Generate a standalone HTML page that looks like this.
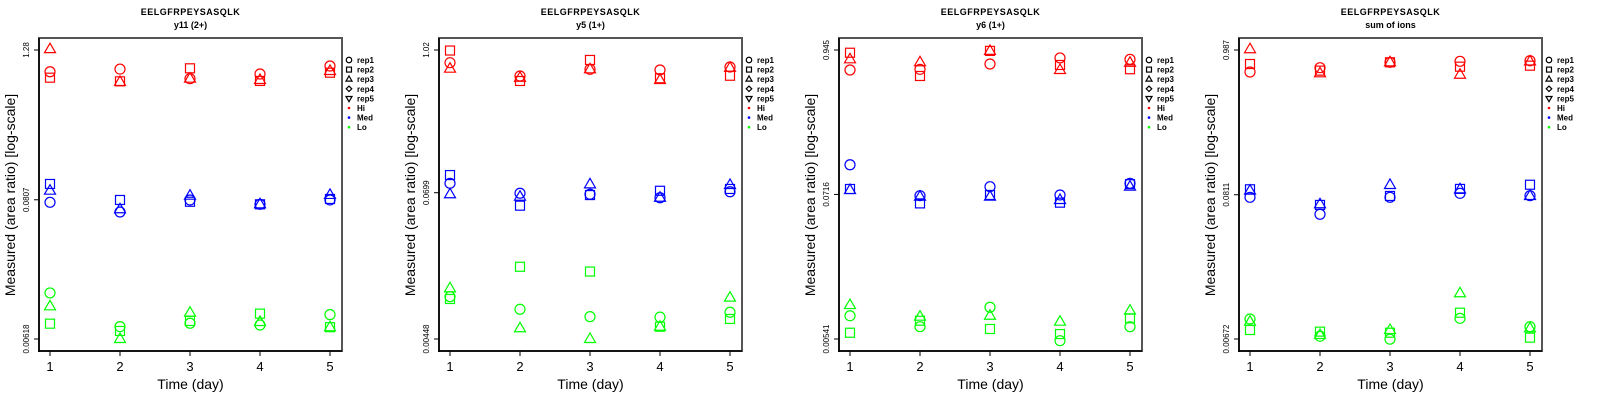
<!DOCTYPE html>
<html><head><meta charset="utf-8"><style>
html,body{margin:0;padding:0;background:#fff;}
svg{display:block;font-family:"Liberation Sans",sans-serif;}
</style></head><body>
<svg id="chart" width="1600" height="400" viewBox="0 0 1600 400"></svg>
<script>
const days = [1, 2, 3, 4, 5];
const repNames = ["rep1", "rep2", "rep3", "rep4", "rep5"];
const levelNames = ["Hi", "Med", "Lo"];
const panelTitles = ["y11 (2+)", "y5 (1+)", "y6 (1+)", "sum of ions"];
const peptide = "EELGFRPEYSASQLK";
const tickLabels = [["1.28","0.0807","0.00618"],["1.02","0.0699","0.00448"],["0.945","0.0716","0.00541"],["0.987","0.0811","0.00672"]];
const tickValues = [[1.28,0.0807,0.00618],[1.02,0.0699,0.00448],[0.945,0.0716,0.00541],[0.987,0.0811,0.00672]];
// [rep1 circle, rep2 square, rep3 triangle] x days
const p1Hi = [[0.857,0.90,0.754,0.822,0.953],[0.768,0.718,0.913,0.723,0.842],[1.30,0.71,0.754,0.736,0.869]];
const p1Med = [[0.077,0.0644,0.0804,0.0742,0.0804],[0.108,0.0804,0.0778,0.0742,0.0819],[0.0954,0.0677,0.087,0.0742,0.0882]];
const p1Lo = [[0.01446,0.00777,0.00826,0.0080,0.00969],[0.0082,0.00717,0.00862,0.00987,0.00768],[0.0113,0.00618,0.01005,0.00846,0.00768]];
const p2Hi = [[0.804,0.626,0.71,0.701,0.741],[1.01,0.570,0.846,0.600,0.629],[0.718,0.606,0.71,0.580,0.73]];
const p2Med = [[0.0834,0.0692,0.0679,0.0636,0.0712],[0.0974,0.0548,0.0669,0.0725,0.075],[0.0679,0.0649,0.0818,0.0636,0.0808]];
const p2Lo = [[0.00992,0.00783,0.00682,0.00676,0.0074],[0.0095,0.0174,0.0159,0.00564,0.00653],[0.0116,0.00548,0.00448,0.00564,0.00974]];
const p3Hi = [[0.661,0.669,0.736,0.82,0.80],[0.90,0.594,0.93,0.723,0.67],[0.80,0.759,0.93,0.661,0.753]];
const p3Med = [[0.1217,0.070,0.0822,0.0709,0.0873],[0.0789,0.061,0.0709,0.0618,0.086],[0.0774,0.0688,0.0688,0.0648,0.0822]];
const p3Lo = [[0.0082,0.00674,0.00954,0.00525,0.00674],[0.00605,0.0075,0.00647,0.00591,0.00783],[0.00992,0.00806,0.0082,0.00737,0.00897]];
const p4Hi = [[0.675,0.727,0.798,0.812,0.82],[0.775,0.691,0.798,0.74,0.753],[1.0,0.66,0.798,0.644,0.81]];
const p4Med = [[0.0776,0.0579,0.0776,0.0831,0.0798],[0.0891,0.068,0.0794,0.0897,0.0964],[0.087,0.0688,0.096,0.089,0.0794]];
const p4Lo = [[0.00949,0.00705,0.0067,0.0096,0.00831],[0.00785,0.00763,0.00749,0.01058,0.00688],[0.00906,0.0072,0.00785,0.0148,0.00808]];
const panelData = [[p1Hi,p1Med,p1Lo],[p2Hi,p2Med,p2Lo],[p3Hi,p3Med,p3Lo],[p4Hi,p4Med,p4Lo]];
const levelColors = ["#ff0000","#0000ff","#00ff00"];

const NS = "http://www.w3.org/2000/svg";
const svg = document.getElementById("chart");
function mk(tag, attrs, parent) {
  const e = document.createElementNS(NS, tag);
  for (const k in attrs) e.setAttribute(k, attrs[k]);
  (parent || svg).appendChild(e);
  return e;
}
function shape(kind, x, y, color, parent, s) {
  let e;
  const st = {fill:"none", stroke:color, "stroke-width":1.2};
  if (kind === 0) e = mk("circle", Object.assign({cx:x, cy:y, r:5*s}, st), parent);
  else if (kind === 1) e = mk("rect", Object.assign({x:x-4.5*s, y:y-4.5*s, width:9*s, height:9*s}, st), parent);
  else if (kind === 2) e = mk("polygon", Object.assign({points:`${x},${y-6*s} ${x-5.5*s},${y+3.5*s} ${x+5.5*s},${y+3.5*s}`}, st), parent);
  else if (kind === 3) e = mk("polygon", Object.assign({points:`${x},${y-5*s} ${x+5*s},${y} ${x},${y+5*s} ${x-5*s},${y}`}, st), parent);
  else e = mk("polygon", Object.assign({points:`${x},${y+6*s} ${x-5.5*s},${y-3.5*s} ${x+5.5*s},${y-3.5*s}`}, st), parent);
  return e;
}

for (let p = 0; p < 4; p++) {
  const ox = p * 400;
  const L = ox + 39, R = ox + 342, T = 38, B = 351;
  const top = 50, bot = 339;
  const tv = tickValues[p];
  const lmax = Math.log10(tv[0]), lmin = Math.log10(tv[2]);
  const yScale = v => top + (lmax - Math.log10(v)) / (lmax - lmin) * (bot - top);
  const xScale = d => L + 11 + (d - 1) * 70;
  const g = mk("g", {});
  
  

  const t1 = mk("text", {x:(L+R)/2, y:15, "text-anchor":"middle", "font-size":9, "font-weight":"bold", "letter-spacing":"0.5"}, g);
  t1.textContent = peptide;
  
  
  const t2 = mk("text", {x:(L+R)/2, y:28, "text-anchor":"middle", "font-size":9, "font-weight":"bold"}, g);
  t2.textContent = panelTitles[p];
  
  

  const box = mk("rect", {x:L, y:T, width:R-L, height:B-T, fill:"none", stroke:"#555", "stroke-width":2}, g);
  
  
  const ya = mk("line", {x1:L, y1:T, x2:L, y2:B+1, stroke:"#000", "stroke-width":1.5}, g);
  
  
  const xa = mk("line", {x1:L-1, y1:B, x2:R, y2:B, stroke:"#000", "stroke-width":1.5}, g);
  
  

  for (let i = 0; i < days.length; i++) {
    const x = xScale(days[i]);
    const tk = mk("line", {x1:x, y1:B, x2:x, y2:B+5, stroke:"#000", "stroke-width":1}, g);
    
    
    const tl = mk("text", {x:x, y:371, "text-anchor":"middle", "font-size":13}, g);
    tl.textContent = days[i];
    
    
  }
  for (let i = 0; i < tv.length; i++) {
    const y = yScale(tv[i]);
    const tk = mk("line", {x1:L-5, y1:y, x2:L, y2:y, stroke:"#000", "stroke-width":1}, g);
    
    
    const tl = mk("text", {x:0, y:0, "text-anchor":"middle", "font-size":8, transform:`translate(${L-10},${y}) rotate(-90)`}, g);
    tl.textContent = tickLabels[p][i];
    
    
  }
  const xt = mk("text", {x:(L+R)/2, y:389, "text-anchor":"middle", "font-size":14}, g);
  xt.textContent = "Time (day)";
  
  
  const yt = mk("text", {x:0, y:0, "text-anchor":"middle", "font-size":14, transform:`translate(${ox+15},${195}) rotate(-90)`}, g);
  yt.textContent = "Measured (area ratio) [log-scale]";
  
  

  const data = panelData[p];
  for (let lv = 0; lv < 3; lv++) {
    for (let r = 0; r < data[lv].length; r++) {
      for (let d = 0; d < days.length; d++) {
        const m = shape(r, xScale(days[d]), yScale(data[lv][r][d]), levelColors[lv], g, 1);
        
        
      }
    }
  }

  const lg = mk("g", {}, g);
  
  
  const lx = R + 7;
  for (let i = 0; i < 8; i++) {
    const y = 60 + i * 9.6;
    if (i < 5) shape(i, lx, y, "#000", lg, 0.55);
    else mk("circle", {cx:lx, cy:y, r:1.3, fill:levelColors[i-5]}, lg);
    const tx = mk("text", {x:lx+8, y:y+3, "font-size":8, "font-weight":"bold"}, lg);
    tx.textContent = i < 5 ? repNames[i] : levelNames[i-5];
    
    
  }
}
</script>
</body></html>
